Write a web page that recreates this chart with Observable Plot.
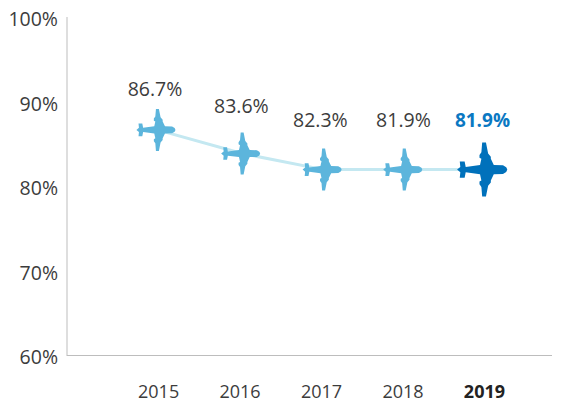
<!DOCTYPE html>
<html><head><meta charset="utf-8">
<style>html,body{margin:0;padding:0;background:#fff}svg{display:block}</style>
<script src="https://cdn.jsdelivr.net/npm/d3@7"></script>
<script src="https://cdn.jsdelivr.net/npm/@observablehq/plot@0.6"></script>
</head><body>
<script>
const years = [2015, 2016, 2017, 2018, 2019];
const positions = [86.7, 83.9, 82.0, 82.0, 82.0];
const planeYears = [2015.01, 2016.05, 2017.05, 2018.04, 2019.02];
const labels = ["86.7%", "83.6%", "82.3%", "81.9%", "81.9%"];
const labelYears = [2014.98, 2016.04, 2017.01, 2018.03, 2019];
const labelValues = [91.5, 89.4, 87.8, 87.8, 87.8];
const yTicks = [60, 70, 80, 90, 100];

const rows = years.map((y, i) => ({year: y, planeYear: planeYears[i], v: positions[i], label: labels[i], lx: labelYears[i], lv: labelValues[i]}));
const regular = rows.slice(0, 4);
const last = rows.slice(4);

// plane silhouette, nose to the right, unit = half wingspan
const half = [[0.86,0],[0.82,0.09],[0.7,0.16],[0.36,0.17],[0.25,0.4],[0.25,0.48],[0.15,0.6],[0.07,1],[-0.07,1],[-0.1,0.64],[-0.17,0.54],[-0.17,0.44],[-0.1,0.4],[-0.15,0.17],[-0.68,0.1],[-0.72,0.3],[-0.9,0.3],[-0.88,0.1],[-1,0]];
const outline = [[-1,0], ...half.slice(1,-1).reverse().map(([x,y])=>[x,-y]), [0.86,0], ...half.slice(1,-1)];
const plane = {draw(ctx, size){
  const s = Math.sqrt(size / Math.PI);
  outline.forEach(([x,y],i)=> i ? ctx.lineTo(x*s,y*s) : ctx.moveTo(x*s,y*s));
  ctx.closePath();
}};

const font = "'Open Sans', sans-serif";
const grey = "#3c3c3c";
const chart = Plot.plot({
  width: 566, height: 402,
  marginLeft: 66.5, marginRight: 14, marginTop: 17, marginBottom: 47,
  style: {fontFamily: font, background: "#fff"},
  x: {domain: [2013.9, 2019.86], axis: null},
  y: {domain: [60, 100], axis: null},
  marks: [
    Plot.ruleX([2013.9], {stroke: "#bdbdbd"}),
    Plot.ruleY([60], {stroke: "#bdbdbd"}),
    Plot.text(yTicks, {x: 2013.9, y: d => d, text: d => d + "%", textAnchor: "end", dx: -9, dy: 2.5, fontSize: 19.5, fill: grey}),
    Plot.text(regular, {x: "year", y: 60, text: d => String(d.year), dy: 37, dx: 2, fontSize: 18, fill: grey}),
    Plot.text(last, {x: "year", y: 60, text: d => String(d.year), dy: 37, dx: 2, fontSize: 18, fontWeight: 700, fill: "#222"}),
    Plot.line(rows, {x: "planeYear", y: "v", stroke: "#c4e8f1", strokeWidth: 3}),
    Plot.dot(regular, {x: "planeYear", y: "v", symbol: plane, r: 21, fill: "#5cb5dc", stroke: "none"}),
    Plot.dot(last, {x: "planeYear", y: "v", symbol: plane, r: 27, fill: "#0071bb", stroke: "none"}),
    Plot.text(regular, {x: "lx", y: "lv", text: "label", fontSize: 19.5, fill: grey}),
    Plot.text(last, {x: "lx", y: "lv", text: "label", fontSize: 19, fontWeight: 700, fill: "#0a78c2"})
  ]
});
document.body.appendChild(chart);
</script>
</body></html>
